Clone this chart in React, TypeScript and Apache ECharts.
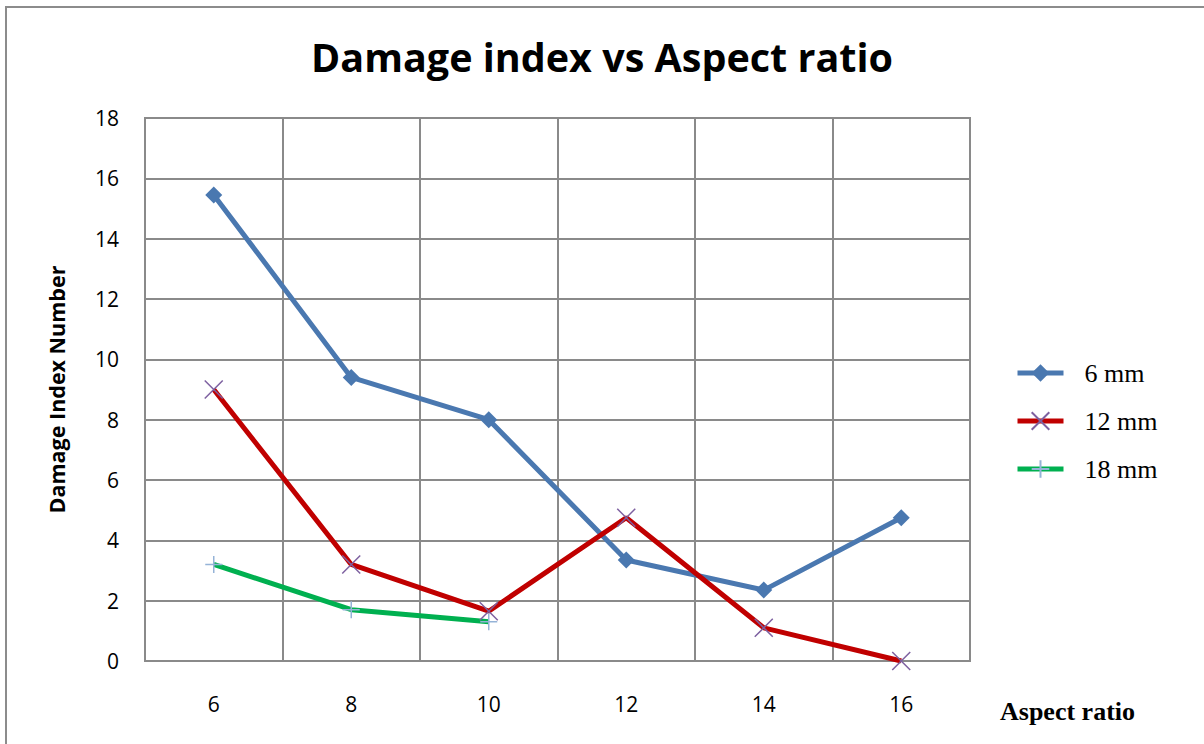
import React, { useEffect, useRef } from "react";
import * as echarts from "echarts";

const categories = ["6", "8", "10", "12", "14", "16"];
const series6mm = [15.45, 9.4, 8.0, 3.35, 2.35, 4.75];
const series12mm = [9.0, 3.2, 1.65, 4.75, 1.1, 0];
const series18mm: (number | null)[] = [3.2, 1.7, 1.3, null, null, null];
const seriesNames = ["6 mm", "12 mm", "18 mm"];

export default function App() {
  const ref = useRef<HTMLDivElement>(null);
  useEffect(() => {
    const chart = echarts.init(ref.current!, null, { renderer: "svg" });
    const grey = "#8a8a8a";
    chart.setOption({
      animation: false,
      backgroundColor: "#ffffff",
      title: {
        text: "Damage index vs Aspect ratio",
        left: "center",
        top: 32,
        textStyle: { fontFamily: "Open Sans", fontWeight: "bold", fontSize: 39.5, color: "#000" },
      },
      graphic: [
        {
          type: "rect",
          shape: { x: 6, y: 7, width: 1210, height: 750 },
          style: { fill: "none", stroke: "#8c8c8c", lineWidth: 2 },
          silent: true,
        },
        {
          type: "text",
          left: 1000,
          top: 698,
          style: {
            text: "Aspect ratio",
            font: "bold 26px 'Liberation Serif'",
            fill: "#000",
          },
        },
      ],
      grid: {
        left: 145,
        top: 118,
        right: 234,
        bottom: 83,
        show: true,
        borderColor: grey,
        borderWidth: 2,
        containLabel: false,
      },
      legend: {
        orient: "vertical",
        left: 1010,
        top: 355,
        itemWidth: 46,
        itemHeight: 22,
        itemGap: 22,
        data: seriesNames,
        lineStyle: { width: 5 },
        textStyle: { fontFamily: "Liberation Serif", fontSize: 26, color: "#000", padding: [0, 0, 0, 16] },
      },
      xAxis: {
        type: "category",
        data: categories,
        boundaryGap: true,
        axisLine: { show: true, lineStyle: { color: grey, width: 2 } },
        axisTick: { show: false },
        axisLabel: { fontFamily: "Open Sans", fontSize: 21, color: "#000", margin: 32 },
        splitLine: { show: true, lineStyle: { color: grey, width: 2 } },
      },
      yAxis: {
        type: "value",
        min: 0,
        max: 18,
        interval: 2,
        name: "Damage Index Number",
        nameLocation: "middle",
        nameGap: 78,
        nameTextStyle: { fontFamily: "Open Sans", fontWeight: "bold", fontSize: 21.5, color: "#000" },
        axisLine: { show: true, lineStyle: { color: grey, width: 2 } },
        axisTick: { show: false },
        axisLabel: { fontFamily: "Open Sans", fontSize: 21, color: "#000", margin: 26 },
        splitLine: { show: true, lineStyle: { color: grey, width: 2 } },
      },
      series: [
        {
          name: seriesNames[0],
          type: "line",
          data: series6mm,
          symbol: "diamond",
          symbolSize: 17,
          lineStyle: { color: "#4a78b0", width: 5 },
          itemStyle: { color: "#4a78b0" },
        },
        {
          name: seriesNames[1],
          type: "line",
          data: series12mm,
          symbol: "path://M0,0L10,10M10,0L0,10",
          symbolSize: 18,
          lineStyle: { color: "#c00000", width: 5 },
          itemStyle: { color: "#7d60a0", borderColor: "#7d60a0", borderWidth: 1.5 },
        },
        {
          name: seriesNames[2],
          type: "line",
          data: series18mm,
          connectNulls: false,
          symbol: "path://M5,0L5,10M0,5L10,5",
          symbolSize: 17,
          lineStyle: { color: "#00b050", width: 5 },
          itemStyle: { color: "#95b3d7", borderColor: "#95b3d7", borderWidth: 1.5 },
        },
      ],
    });
    return () => chart.dispose();
  }, []);
  return (
    <div
      ref={ref}
      style={{ position: "absolute", left: 0, top: 0, width: 1204, height: 744 }}
    />
  );
}
